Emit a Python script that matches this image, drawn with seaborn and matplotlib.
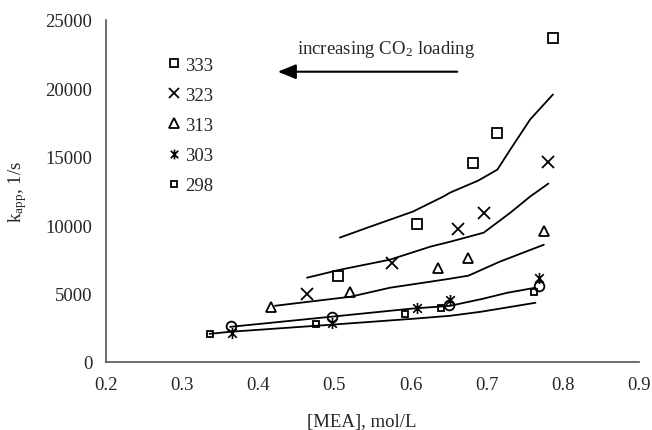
import seaborn as sns
import matplotlib.pyplot as plt
import pandas as pd
from matplotlib.path import Path
from matplotlib.lines import Line2D

# measured points (x = [MEA] mol/L, y = kapp 1/s)
x333 = [0.505, 0.608, 0.682, 0.713, 0.787]
y333 = [6300, 10100, 14500, 16700, 23650]
x323 = [0.464, 0.575, 0.662, 0.696, 0.781]
y323 = [4980, 7250, 9740, 10900, 14570]
x313 = [0.417, 0.520, 0.636, 0.676, 0.775]
y313 = [4030, 5120, 6880, 7610, 9590]
x303 = [0.366, 0.497, 0.609, 0.652, 0.768]
y303 = [2120, 2850, 3950, 4540, 6150]
x298 = [0.336, 0.476, 0.593, 0.640, 0.762]
y298 = [2050, 2780, 3510, 3950, 5120]
xcirc = [0.364, 0.497, 0.650, 0.768]
ycirc = [2600, 3250, 4170, 5560]

# model curves
lx1 = [0.507, 0.547, 0.603, 0.643, 0.652, 0.689, 0.714, 0.731, 0.757, 0.787]
ly1 = [9080, 9880, 10980, 12080, 12370, 13250, 14050, 15520, 17710, 19540]
lx2 = [0.464, 0.507, 0.573, 0.626, 0.652, 0.696, 0.731, 0.757, 0.781]
ly2 = [6150, 6730, 7470, 8420, 8780, 9440, 10900, 12080, 13030]
lx3 = [0.422, 0.521, 0.573, 0.626, 0.652, 0.676, 0.717, 0.775]
ly3 = [4100, 4760, 5420, 5860, 6080, 6300, 7320, 8560]
lx4 = [0.363, 0.494, 0.599, 0.652, 0.694, 0.727, 0.764]
ly4 = [2560, 3290, 3880, 4100, 4600, 5050, 5420]
lx5 = [0.336, 0.363, 0.494, 0.603, 0.652, 0.692, 0.764]
ly5 = [2050, 2200, 2710, 3150, 3370, 3660, 4320]

temps = ['333', '323', '313', '303', '298']

sns.set_style("white")
plt.rcParams['font.family'] = ['Liberation Serif', 'DejaVu Serif']
plt.rcParams['mathtext.fontset'] = 'stix'

# asterisk marker: X plus vertical bar
aster = Path([(-1, -1), (1, 1), (-1, 1), (1, -1), (0, -1.3), (0, 1.3)],
             [Path.MOVETO, Path.LINETO, Path.MOVETO, Path.LINETO, Path.MOVETO, Path.LINETO])

fig = plt.figure(figsize=(6.52, 4.31), dpi=100)
ax = fig.add_axes([0.1626, 0.158, 0.8175, 0.794])

for lx, ly in [(lx1, ly1), (lx2, ly2), (lx3, ly3), (lx4, ly4), (lx5, ly5)]:
    d = pd.DataFrame({'x': lx, 'y': ly})
    sns.lineplot(data=d, x='x', y='y', sort=False, estimator=None, color='black', lw=1.3, ax=ax)

# (x, y, marker, plot size, legend size, edge width)
styles = [
    (x333, y333, 's', 7.5, 5.5, 1.3),
    (x323, y323, 'x', 8, 6.5, 1.3),
    (x313, y313, '^', 7.5, 6.5, 1.3),
    (x303, y303, aster, 8, 7, 1.2),
    (x298, y298, 's', 5, 4, 1.3),
]
handles = []
for (xs, ys, m, ms, lms, mew), t in zip(styles, temps):
    ax.plot(xs, ys, ls='none', marker=m, ms=ms, mfc='none', mec='black', mew=mew)
    handles.append(Line2D([], [], ls='none', marker=m, ms=lms, mfc='none', mec='black', mew=mew, label=t))
ax.plot(xcirc, ycirc, ls='none', marker='o', ms=7, mfc='none', mec='black', mew=1.3)

ax.set_xlim(0.2, 0.9)
ax.set_ylim(0, 25000)
ax.set_xticks([0.2, 0.3, 0.4, 0.5, 0.6, 0.7, 0.8, 0.9])
ax.set_yticks([0, 5000, 10000, 15000, 20000, 25000])
ax.set_xticklabels(['0.2', '0.3', '0.4', '0.5', '0.6', '0.7', '0.8', '0.9'])
ax.set_yticklabels(['0', '5000', '10000', '15000', '20000', '25000'])
ax.tick_params(axis='both', labelsize=13.5, direction='out', length=5, width=1, color='#666666', pad=5)
for s in ['top', 'right']:
    ax.spines[s].set_visible(False)
for s in ['left', 'bottom']:
    ax.spines[s].set_color('#555555')
    ax.spines[s].set_linewidth(1.2)

ax.set_xlabel('[MEA], mol/L', fontsize=13.5)
ax.xaxis.set_label_coords(0.48, -0.15)
ax.set_ylabel(r'k$_\mathregular{app}$, 1/s', fontsize=13.5, labelpad=12)

ax.legend(handles=handles, loc='upper left', bbox_to_anchor=(0.1, 0.919), frameon=False,
          fontsize=13.5, handlelength=0.6, handletextpad=0.25, labelspacing=0.69, borderpad=0)

ax.annotate('', xy=(0.422, 21200), xytext=(0.665, 21200),
            arrowprops=dict(arrowstyle='-|>,head_length=1.1,head_width=0.45', color='black', lw=1.5))
ax.text(0.568, 22900, r'increasing CO$_\mathregular{2}$ loading', fontsize=13.5, ha='center', va='center')

plt.savefig('out.png', dpi=100)
